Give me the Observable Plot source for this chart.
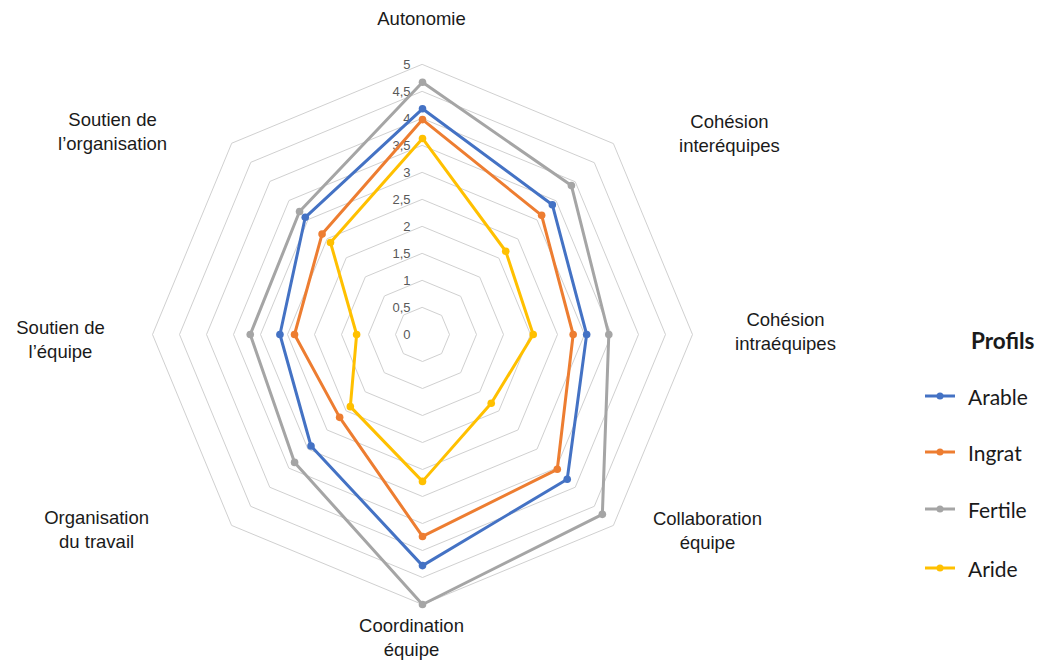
<!DOCTYPE html>
<html>
<head>
<meta charset="utf-8">
<script src="https://cdn.jsdelivr.net/npm/d3@7"></script>
<script src="https://cdn.jsdelivr.net/npm/@observablehq/plot@0.6"></script>
<style>
  html, body { margin: 0; padding: 0; background: #fff; }
  #wrap { position: relative; width: 1042px; height: 660px; }
  #legend { position: absolute; left: 0; top: 0; width: 1042px; height: 660px; pointer-events: none; font-family: Lato, "Open Sans", sans-serif; color: #1a1a1a; }
  .lg-title { position: absolute; left: 971px; top: 327px; font-weight: bold; font-size: 22.5px; }
  .lg-item { position: absolute; left: 925px; height: 24px; display: flex; align-items: center; font-size: 21px; }
  .lg-item svg { margin-right: 13px; }
</style>
</head>
<body>
<div id="wrap"><div id="legend"></div></div>
<script>
// ---- data ----
const axes = ["Autonomie", "Cohésion\ninteréquipes", "Cohésion\nintraéquipes", "Collaboration\néquipe",
              "Coordination\néquipe", "Organisation\ndu travail", "Soutien de\nl’équipe", "Soutien de\nl’organisation"];
const profils = ["Arable", "Ingrat", "Fertile", "Aride"];
const arable  = [4.18, 3.40, 3.04, 3.79, 4.28, 2.92, 2.64, 3.07];
const ingrat  = [3.98, 3.12, 2.79, 3.53, 3.74, 2.17, 2.37, 2.63];
const fertile = [4.67, 3.90, 3.45, 4.71, 5.00, 3.35, 3.19, 3.22];
const aride   = [3.63, 2.18, 2.05, 1.80, 2.72, 1.89, 1.22, 2.41];
const tickValues = [0, 0.5, 1, 1.5, 2, 2.5, 3, 3.5, 4, 4.5, 5];
const tickLabels = ["0", "0,5", "1", "1,5", "2", "2,5", "3", "3,5", "4", "4,5", "5"];
const colors = ["#4472C4", "#ED7D31", "#A5A5A5", "#FFC000"];

// ---- styling (label pixel offsets from each outer vertex) ----
const labelOffsets = [[-1, -47], [116, -11], [93, -4], [94, 4], [-11, 32], [-135, 3], [-92, 4], [-119, -13]];

const seriesValues = [arable, ingrat, fertile, aride];
const n = axes.length;
const ang = i => i * 2 * Math.PI / n;
const px = (v, i) => v * Math.sin(ang(i));
const py = (v, i) => v * Math.cos(ang(i));

const rows = [];
profils.forEach((p, k) => seriesValues[k].forEach((v, i) => rows.push({profil: p, i, v})));

const rings = [];
tickValues.filter(t => t > 0).forEach(t => axes.forEach((a, i) => rings.push({t, i})));

const W = 1042, H = 660, cx = 422, cy = 334, unit = 54;

const marks = [
  Plot.line(rings, {x: d => px(d.t, d.i), y: d => py(d.t, d.i), z: "t", curve: "linear-closed", stroke: "#d0d0d0", strokeWidth: 1}),
  Plot.text(tickValues, {x: 0, y: d => d, text: (d, j) => tickLabels[j], textAnchor: "end", dx: -12, fontSize: 13, fill: "#595959"}),
  ...axes.map((a, i) => Plot.text([i], {x: d => px(5, d), y: d => py(5, d), text: d => axes[d], dx: labelOffsets[i][0], dy: labelOffsets[i][1], textAnchor: "middle", lineAnchor: "middle", lineHeight: 1.3, fontSize: 18.5, fill: "#1a1a1a"})),
  Plot.line(rows, {x: d => px(d.v, d.i), y: d => py(d.v, d.i), z: "profil", stroke: "profil", curve: "linear-closed", strokeWidth: 3}),
  Plot.dot(rows, {x: d => px(d.v, d.i), y: d => py(d.v, d.i), fill: "profil", r: 3.8})
];

const chart = Plot.plot({
  width: W, height: H,
  margin: 0,
  style: {fontFamily: "'Liberation Sans', Arial, sans-serif", background: "#fff"},
  x: {domain: [-cx / unit, (W - cx) / unit], range: [0, W], axis: null},
  y: {domain: [-(H - cy) / unit, cy / unit], range: [H, 0], axis: null},
  color: {domain: profils, range: colors},
  marks
});
document.getElementById("wrap").prepend(chart);

// ---- legend ----
const legend = document.getElementById("legend");
const t = document.createElement("div");
t.className = "lg-title"; t.textContent = "Profils";
legend.appendChild(t);
const legendTops = [384, 440, 497, 556];
profils.forEach((p, k) => {
  const d = document.createElement("div");
  d.className = "lg-item";
  d.style.top = legendTops[k] + "px";
  d.innerHTML = `<svg width="30" height="10"><line x1="0" y1="5" x2="30" y2="5" stroke="${colors[k]}" stroke-width="3"/><circle cx="15" cy="5" r="3.5" fill="${colors[k]}"/></svg><span>${p}</span>`;
  legend.appendChild(d);
});
</script>
</body>
</html>
